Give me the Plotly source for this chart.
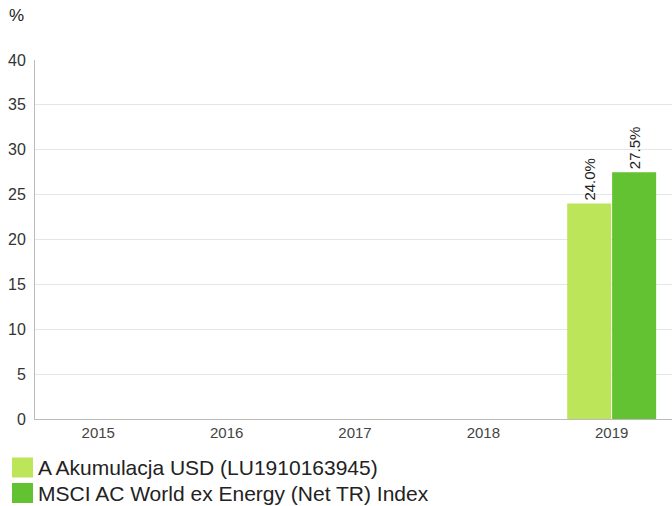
import plotly.graph_objects as go

years = ["2015", "2016", "2017", "2018", "2019"]
fund_values = [None, None, None, None, 24.0]
index_values = [None, None, None, None, 27.5]
series_names = ["A Akumulacja USD (LU1910163945)", "MSCI AC World ex Energy (Net TR) Index"]
colors = ["#bce55a", "#62c232"]

def labels(vals):
    return [("" if v is None else f"{v:.1f}%") for v in vals]

fig = go.Figure()
for name, vals, col in zip(series_names, [fund_values, index_values], colors):
    fig.add_trace(go.Bar(
        x=years, y=vals, name=name, marker=dict(color=col, line=dict(width=0)),
        text=labels(vals), textposition="outside", textangle=-90,
        textfont=dict(size=15, color="#222"), cliponaxis=False, showlegend=False,
    ))

font = "Liberation Sans, Arial, sans-serif"
fig.update_layout(
    width=672, height=506,
    margin=dict(l=35, r=0, t=60, b=87),
    paper_bgcolor="white", plot_bgcolor="white",
    font=dict(family=font, size=14, color="#333"),
    barmode="group", bargap=0.3, bargroupgap=0.02,
    xaxis=dict(type="category", range=[-0.493, 4.47], showline=True, linecolor="#bbbbbb",
               linewidth=1, ticks="", tickfont=dict(size=15, color="#444"), showgrid=False),
    yaxis=dict(range=[0, 40], dtick=5, showline=True, linecolor="#bbbbbb", linewidth=1,
               gridcolor="#e6e6e6", zeroline=False, ticks="",
               tickfont=dict(size=16, color="#333"), ticklabelstandoff=5),
)

fig.add_annotation(text="%", xref="paper", yref="paper", x=(7 - 35) / 637, y=1 + 45 / 359,
                   xanchor="left", yanchor="middle", showarrow=False,
                   font=dict(size=17, color="#222"))

# legend drawn manually
ys = [467.5, 493]
for name, col, ypx in zip(series_names, colors, ys):
    fy = (419 - ypx) / 359
    fig.add_shape(type="rect", xref="paper", yref="paper",
                  x0=(12 - 35) / 637, x1=(33 - 35) / 637,
                  y0=fy - 10 / 359, y1=fy + 10 / 359,
                  fillcolor=col, line=dict(width=0))
    fig.add_annotation(text=name, xref="paper", yref="paper", x=(36 - 35) / 637, y=fy,
                       xanchor="left", yanchor="middle", showarrow=False,
                       font=dict(size=21, color="#222"))

fig.write_html("out.html")
